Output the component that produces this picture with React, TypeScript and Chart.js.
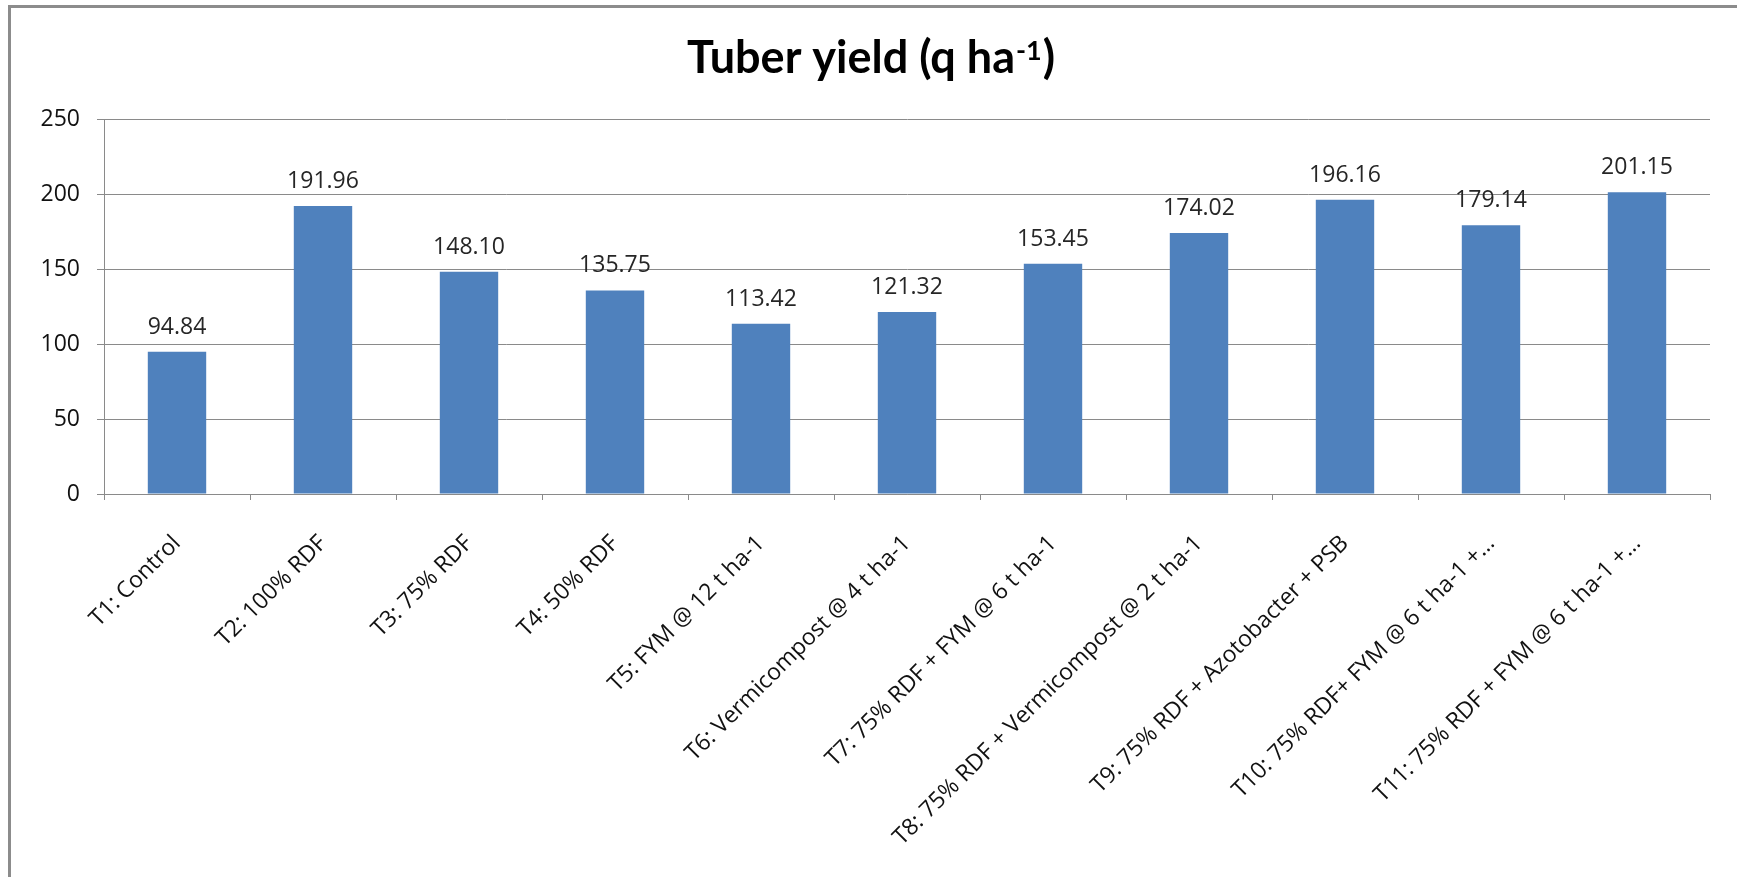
import React, { useEffect, useRef } from 'react';
import { Chart, registerables } from 'chart.js';

Chart.register(...registerables);

const categories = [
  'T1: Control',
  'T2: 100% RDF',
  'T3: 75% RDF',
  'T4: 50% RDF',
  'T5: FYM @ 12 t ha-1',
  'T6: Vermicompost @ 4 t ha-1',
  'T7: 75% RDF + FYM @ 6 t ha-1',
  'T8: 75% RDF + Vermicompost @ 2 t ha-1',
  'T9: 75% RDF + Azotobacter + PSB',
  'T10: 75% RDF+ FYM @ 6 t ha-1 +…',
  'T11: 75% RDF + FYM @ 6 t ha-1 +…',
];
const yieldValues = [94.84, 191.96, 148.1, 135.75, 113.42, 121.32, 153.45, 174.02, 196.16, 179.14, 201.15];
const valueLabels = ['94.84', '191.96', '148.10', '135.75', '113.42', '121.32', '153.45', '174.02', '196.16', '179.14', '201.15'];
const yAxisMin = 0;
const yAxisMax = 250;
const yAxisStep = 50;
const titleMain = 'Tuber yield (q ha';
const titleSup = '-1';
const titleEnd = ')';

const FONT = '"Open Sans", "DejaVu Sans", sans-serif';
const TITLE_FONT = 'Lato, "Open Sans", sans-serif';

const titlePlugin = {
  id: 'supTitle',
  afterDraw(chart: any) {
    const ctx = chart.ctx;
    ctx.save();
    const mainFont = `bold 45px ${TITLE_FONT}`;
    const supFont = `bold 27px ${TITLE_FONT}`;
    ctx.font = mainFont;
    const w1 = ctx.measureText(titleMain).width;
    const w3 = ctx.measureText(titleEnd).width;
    ctx.font = supFont;
    const w2 = ctx.measureText(titleSup).width;
    const total = w1 + w2 + w3;
    const cx = 870;
    const baseY = 73;
    let x = cx - total / 2;
    ctx.fillStyle = '#000';
    ctx.textBaseline = 'alphabetic';
    ctx.textAlign = 'left';
    ctx.font = mainFont;
    ctx.fillText(titleMain, x, baseY);
    x += w1 + 1;
    ctx.font = supFont;
    ctx.fillText(titleSup, x, baseY - 13);
    x += w2 + 1;
    ctx.font = mainFont;
    ctx.fillText(titleEnd, x, baseY);
    ctx.restore();
  },
};

const valueLabelPlugin = {
  id: 'valueLabels',
  afterDatasetsDraw(chart: any) {
    const ctx = chart.ctx;
    const meta = chart.getDatasetMeta(0);
    ctx.save();
    ctx.font = `23px ${FONT}`;
    ctx.fillStyle = '#262626';
    ctx.textAlign = 'center';
    ctx.textBaseline = 'alphabetic';
    meta.data.forEach((bar: any, i: number) => {
      ctx.fillText(valueLabels[i], bar.x, bar.y - 18);
    });
    ctx.restore();
  },
};

export default function App() {
  const ref = useRef<HTMLCanvasElement>(null);
  useEffect(() => {
    if (!ref.current) return;
    const chart = new Chart(ref.current, {
      type: 'bar',
      data: {
        labels: categories,
        datasets: [
          {
            data: yieldValues,
            backgroundColor: '#4F81BD',
            borderWidth: 0,
            barPercentage: 0.4,
            categoryPercentage: 1,
          },
        ],
      },
      options: {
        responsive: false,
        animation: false,
        devicePixelRatio: 1,
        layout: { padding: { top: 119, right: 27, left: 0, bottom: 0 } },
        plugins: {
          legend: { display: false },
          title: { display: false },
          tooltip: { enabled: false },
        },
        scales: {
          x: {
            grid: {
              offset: true,
              drawOnChartArea: false,
              drawTicks: true,
              tickLength: 6,
              color: '#8a8a8a',
            },
            border: { color: '#8a8a8a', width: 1 },
            ticks: {
              minRotation: 45,
              maxRotation: 45,
              autoSkip: false,
              padding: 30,
              color: '#111',
              font: { family: FONT, size: 23 },
            },
            afterFit: (s: any) => {
              s.height = 877 - 494;
            },
          },
          y: {
            min: yAxisMin,
            max: yAxisMax,
            ticks: {
              stepSize: yAxisStep,
              padding: 17,
              color: '#111',
              font: { family: FONT, size: 23 },
            },
            grid: { color: '#8a8a8a', tickLength: 7 },
            border: { color: '#8a8a8a', width: 1 },
            afterFit: (s: any) => {
              s.width = 104;
            },
          },
        },
      },
      plugins: [titlePlugin, valueLabelPlugin],
    });
    return () => chart.destroy();
  }, []);
  return (
    <div style={{ position: 'fixed', left: 0, top: 0, width: 1737, height: 877, background: '#fff', overflow: 'hidden' }}>
      <canvas ref={ref} width={1737} height={877} style={{ display: 'block', width: 1737, height: 877 }} />
      <div
        style={{
          position: 'absolute',
          left: 8,
          top: 5,
          width: 1800,
          height: 1000,
          borderLeft: '3px solid #8c8c8c',
          borderTop: '3px solid #8c8c8c',
          pointerEvents: 'none',
        }}
      />
    </div>
  );
}
